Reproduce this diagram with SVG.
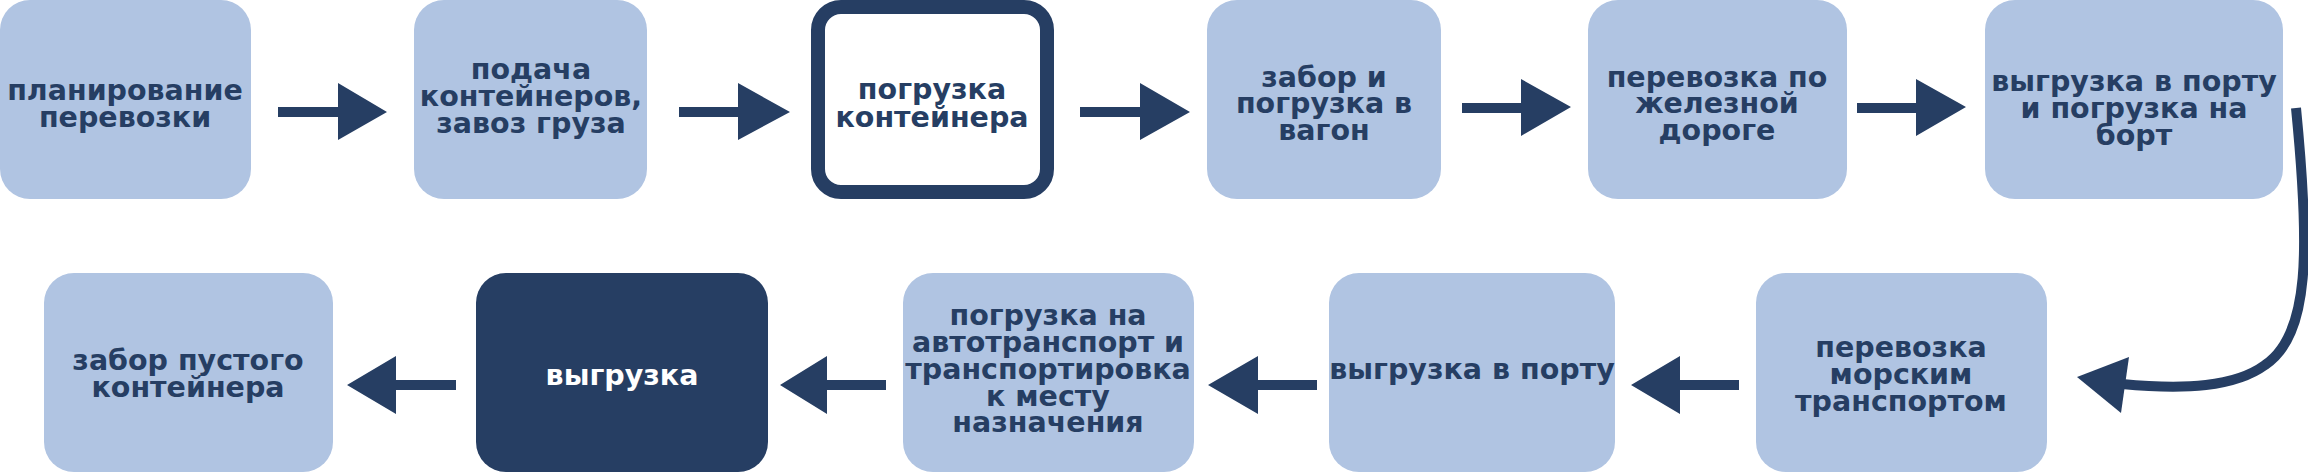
<svg xmlns="http://www.w3.org/2000/svg" width="2308" height="473" viewBox="0 0 2308 473">
<style>
.box{fill:#b0c4e2}
.dark{fill:#263e63}
.t{font-family:"DejaVu Sans","Liberation Sans",sans-serif;font-size:28.5px;font-weight:600;fill:#263e63;text-anchor:middle}
.w{fill:#ffffff}
.arr{fill:#263e63}
</style>
<rect width="2308" height="473" fill="#ffffff"/>
<g id="n1"><rect class="box" x="0" y="0" width="251" height="199" rx="30"/>
<text class="t" x="125" y="100">планирование</text><text class="t" x="125" y="127">перевозки</text></g>
<g id="n2"><rect class="box" x="414" y="0" width="233" height="199" rx="30"/>
<text class="t" x="531" y="79">подача</text><text class="t" x="531" y="106">контейнеров,</text><text class="t" x="531" y="133">завоз груза</text></g>
<g id="n3"><rect x="818" y="7" width="229" height="185" rx="23" fill="#ffffff" stroke="#263e63" stroke-width="14"/>
<text class="t" x="932" y="99">погрузка</text><text class="t" x="932" y="127">контейнера</text></g>
<g id="n4"><rect class="box" x="1207" y="0" width="234" height="199" rx="30"/>
<text class="t" x="1324" y="87">забор и</text><text class="t" x="1324" y="113">погрузка в</text><text class="t" x="1324" y="140">вагон</text></g>
<g id="n5"><rect class="box" x="1588" y="0" width="259" height="199" rx="30"/>
<text class="t" x="1717" y="87">перевозка по</text><text class="t" x="1717" y="113">железной</text><text class="t" x="1717" y="140">дороге</text></g>
<g id="n6"><rect class="box" x="1985" y="0" width="298" height="199" rx="30"/>
<text class="t" x="2134" y="91">выгрузка в порту</text><text class="t" x="2134" y="118">и погрузка на</text><text class="t" x="2134" y="145">борт</text></g>
<g id="n7"><rect class="box" x="44" y="273" width="289" height="199" rx="30"/>
<text class="t" x="188" y="370">забор пустого</text><text class="t" x="188" y="397">контейнера</text></g>
<g id="n8"><rect class="dark" x="476" y="273" width="292" height="199" rx="30"/>
<text class="t w" x="622" y="385">выгрузка</text></g>
<g id="n9"><rect class="box" x="903" y="273" width="291" height="199" rx="30"/>
<text class="t" x="1048" y="325">погрузка на</text><text class="t" x="1048" y="352">автотранспорт и</text><text class="t" x="1048" y="379">транспортировка</text><text class="t" x="1048" y="406">к месту</text><text class="t" x="1048" y="432">назначения</text></g>
<g id="n10"><rect class="box" x="1329" y="273" width="286" height="199" rx="30"/>
<text class="t" x="1472" y="379">выгрузка в порту</text></g>
<g id="n11"><rect class="box" x="1756" y="273" width="291" height="199" rx="30"/>
<text class="t" x="1901" y="357">перевозка</text><text class="t" x="1901" y="384">морским</text><text class="t" x="1901" y="411">транспортом</text></g>
<g id="connectors">
<polygon class="arr" points="278,107 338,107 338,83 387,112 338,140 338,117 278,117"/>
<polygon class="arr" points="679,107 738,107 738,83 790,112 738,140 738,117 679,117"/>
<polygon class="arr" points="1080,107 1140,107 1140,83 1190,112 1140,140 1140,117 1080,117"/>
<polygon class="arr" points="1462,103 1521,103 1521,79 1571,107 1521,136 1521,113 1462,113"/>
<polygon class="arr" points="1857,103 1916,103 1916,79 1966,107 1916,136 1916,113 1857,113"/>
<polygon class="arr" points="456,380 396,380 396,356 347,385 396,414 396,390 456,390"/>
<polygon class="arr" points="886,380 827,380 827,356 780,385 827,414 827,390 886,390"/>
<polygon class="arr" points="1317,380 1258,380 1258,356 1208,385 1258,414 1258,390 1317,390"/>
<polygon class="arr" points="1739,380 1680,380 1680,356 1631,385 1680,414 1680,390 1739,390"/>
<path d="M 2296 108 C 2310 250 2310 335 2265 365 C 2235 387 2185 390 2122 384" fill="none" stroke="#263e63" stroke-width="10"/>
<polygon class="arr" points="2077,377 2129,357 2121,413"/>
</g>
</svg>
